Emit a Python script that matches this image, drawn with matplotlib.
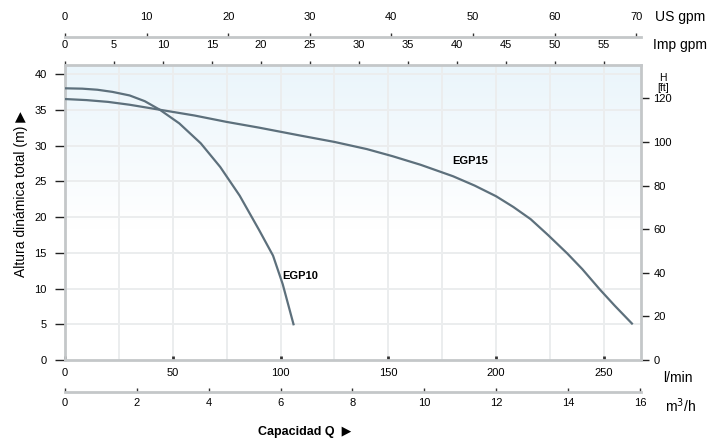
# Curvas de bomba EGP10 / EGP15
import numpy as np
import matplotlib.pyplot as plt

plt.rcParams['font.family'] = ['Liberation Sans', 'DejaVu Sans']

# caudal (l/min) y altura (m)
q_egp10 = [0, 8, 15, 22, 30, 37, 44, 53, 63, 72, 81, 90, 96.5, 101, 106]
h_egp10 = [38.0, 37.95, 37.8, 37.5, 37.0, 36.2, 35.0, 33.1, 30.3, 27.0, 23.0, 18.2, 14.6, 10.6, 5.0]

q_egp15 = [0, 10, 20, 30, 44, 60, 75, 90, 109, 125, 140, 152, 165, 180,
           190, 200, 208, 216, 224, 233, 240, 248, 255, 263]
h_egp15 = [36.5, 36.35, 36.1, 35.7, 35.0, 34.2, 33.3, 32.5, 31.4, 30.5, 29.5, 28.5, 27.3, 25.7,
           24.4, 22.9, 21.4, 19.7, 17.5, 14.9, 12.7, 9.9, 7.6, 5.1]

usgpm_ticks = [0, 10, 20, 30, 40, 50, 60, 70]
impgpm_ticks = [0, 5, 10, 15, 20, 25, 30, 35, 40, 45, 50, 55]
lpm_ticks = [0, 50, 100, 150, 200, 250]
m3h_ticks = [0, 2, 4, 6, 8, 10, 12, 14, 16]
m_ticks = [0, 5, 10, 15, 20, 25, 30, 35, 40]
ft_ticks = [0, 20, 40, 60, 80, 100, 120]

LINE = '#5d707c'
BOX = '#c4c7c9'

fig = plt.figure(figsize=(7.25, 4.4), dpi=100)
ax = fig.add_axes([65 / 725, 80 / 440, 576 / 725, 295 / 440])
ax.set_xlim(0, 267.2)
ax.set_ylim(0, 41.26)

# fondo: tinte azul muy suave arriba
grad = np.linspace(1, 0, 200).reshape(-1, 1)
grad = np.clip(grad * 1.8 - 0.8, 0, 1)
cmap = plt.matplotlib.colors.LinearSegmentedColormap.from_list('bg', ['#ffffff', '#eaf5fb'])
ax.imshow(grad, extent=[0, 1, 0, 1], transform=ax.transAxes, aspect='auto',
          cmap=cmap, zorder=0)

for gx in np.arange(25, 266, 25):
    ax.axvline(gx, color='#ebedee', lw=1.4, zorder=1)
for gy in m_ticks[1:]:
    ax.axhline(gy, color='#ebedee', lw=1.4, zorder=1)

ax.plot(q_egp10, h_egp10, color=LINE, lw=1.6, zorder=3, solid_joinstyle='round')
ax.plot(q_egp15, h_egp15, color=LINE, lw=1.6, zorder=3, solid_joinstyle='round')
ax.text(109, 11.8, 'EGP10', fontsize=8, fontweight='bold', ha='center', va='center')
ax.text(188, 27.9, 'EGP15', fontsize=8, fontweight='bold', ha='center', va='center')

for s in ax.spines.values():
    s.set_color(BOX)
    s.set_linewidth(2)

ax.set_xticks(lpm_ticks)
ax.tick_params(axis='x', direction='in', length=3, width=2, color='#333333',
               labelsize=8, pad=6)
ax.set_yticks(m_ticks)
ax.tick_params(axis='y', direction='out', length=7, width=1, color='#222222',
               labelsize=8, pad=6)
ax.set_ylabel('Altura dinámica total (m) \u25b6', fontsize=10)
ax.yaxis.set_label_coords(-0.064, 0.563)

# eje derecho en pies
ay = ax.secondary_yaxis('right', functions=(lambda m: m / 0.3048, lambda f: f * 0.3048))
ay.set_yticks(ft_ticks)
ay.tick_params(direction='out', length=6, width=1, color='#222222', labelsize=8, pad=3)
ay.spines['right'].set_visible(False)
fig.text(663 / 725, 1 - 78 / 440, 'H', fontsize=7.5, ha='center', va='center')
fig.text(663 / 725, 1 - 88 / 440, '[ft]', fontsize=7.5, ha='center', va='center')

# ejes superiores
top_us = ax.secondary_xaxis(1 + 28 / 295, functions=(lambda q: q / 3.785, lambda g: g * 3.785))
top_us.set_xticks(usgpm_ticks)
top_us.tick_params(direction='out', length=3, width=1, color='#333333', labelsize=8, pad=8)
top_us.spines['top'].set_color(BOX)
top_us.spines['top'].set_linewidth(2)

top_imp = ax.secondary_xaxis('top', functions=(lambda q: q / 4.546, lambda g: g * 4.546))
top_imp.set_xticks(impgpm_ticks)
top_imp.tick_params(direction='out', length=3, width=1, color='#333333', labelsize=8, pad=8)
top_imp.spines['top'].set_visible(False)

# eje inferior m3/h
bot = ax.secondary_xaxis(-32 / 295, functions=(lambda q: q * 0.06, lambda m: m / 0.06))
bot.set_xticks(m3h_ticks)
bot.tick_params(direction='in', length=3, width=1, color='#333333', labelsize=8, pad=4)
bot.spines['bottom'].set_color(BOX)
bot.spines['bottom'].set_linewidth(2)

fig.text(655 / 725, 1 - 17 / 440, 'US gpm', fontsize=10, ha='left', va='center')
fig.text(653 / 725, 1 - 45 / 440, 'Imp gpm', fontsize=10, ha='left', va='center')
fig.text(663 / 725, 1 - 378 / 440, 'l/min', fontsize=10, ha='left', va='center')
fig.text(665 / 725, 1 - 406 / 440, 'm$^3$/h', fontsize=10, ha='left', va='center')
fig.text(305 / 725, 1 - 432 / 440, 'Capacidad Q  \u25b6', fontsize=9, fontweight='bold',
         ha='center', va='center')

fig.savefig('out.png', dpi=100)
